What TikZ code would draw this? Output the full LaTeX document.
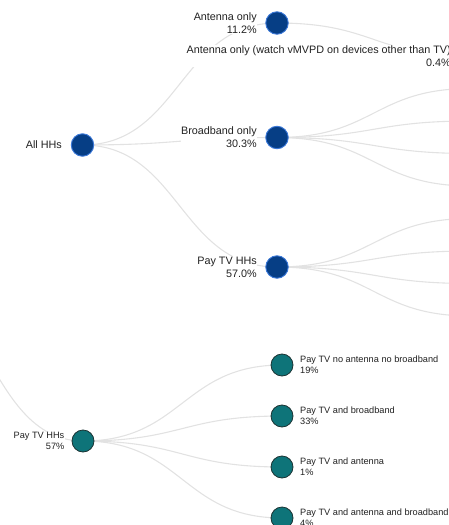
\documentclass[tikz,border=0pt]{standalone}
\usepackage{fontspec}
\setmainfont{Liberation Sans}
\usetikzlibrary{calc,backgrounds}
\definecolor{linkgray}{HTML}{E2E2E2}
\definecolor{nodeblue}{HTML}{063E85}
\definecolor{nodeedge}{HTML}{3B78D8}
\definecolor{nodeteal}{HTML}{0E7479}
\definecolor{tealedge}{HTML}{1C3333}
\definecolor{labelgray}{HTML}{222222}
\tikzset{
  link/.style={draw=linkgray, line width=1.1pt},
  bnode/.style={circle, fill=nodeblue, draw=nodeedge, line width=0.9pt, minimum size=22.5pt, inner sep=0pt},
  tnode/.style={circle, fill=nodeteal, draw=tealedge, line width=0.8pt, minimum size=22pt, inner sep=0pt},
  toplab/.style={font=\fontsize{10.8}{13}\selectfont, text=labelgray, align=right, inner sep=0.5pt, fill=white},
  botlab/.style={font=\fontsize{9.2}{11}\selectfont, text=labelgray, inner sep=0.5pt, fill=white},
}
\newcommand\dlink[2]{\draw[link] let \p1=(#1), \p2=(#2) in (\p1) .. controls ({(\x1+\x2)/2},\y1) and ({(\x1+\x2)/2},\y2) .. (\p2);}
\begin{document}
\begin{tikzpicture}[x=1pt,y=-1pt]
\useasboundingbox (0,0) rectangle (449,525);
% ---- upper tree ----
\node[bnode] (all) at (82.5,145) {};
\node[toplab, anchor=east] (alll) at (62.5,145) {All HHs};
\node[bnode] (ant) at (277,23) {};
\node[toplab, anchor=east] (antl) at (257.5,23) {Antenna only\\11.2\%};
\node[bnode] (bb) at (277,137.5) {};
\node[toplab, anchor=east] (bbl) at (257.5,137.5) {Broadband only\\30.3\%};
\node[bnode] (ptv) at (277,267) {};
\node[toplab, anchor=east] (ptvl) at (257.5,267) {Pay TV HHs\\57.0\%};
\coordinate (c0) at (471,56);
\coordinate (c1) at (471,88.5);
\coordinate (c2) at (471,121);
\coordinate (c3) at (471,153.5);
\coordinate (c4) at (471,186);
\coordinate (c5) at (471,218.5);
\coordinate (c6) at (471,251);
\coordinate (c7) at (471,283.5);
\coordinate (c8) at (471,316);
\node[toplab, anchor=east] (c0l) at (451.5,56) {Antenna only (watch vMVPD on devices other than TV)\\0.4\%};
% ---- lower tree ----
\coordinate (bp) at (-116,261);
\node[tnode] (broot) at (83,441) {};
\node[botlab, anchor=east, align=right] (brootl) at (65,441) {Pay TV HHs\\57\%};
\node[tnode] (k1) at (282,365) {};
\node[tnode] (k2) at (282,416) {};
\node[tnode] (k3) at (282,467) {};
\node[tnode] (k4) at (282,518) {};
\node[botlab, anchor=west, align=left] (k1l) at (299.5,365) {Pay TV no antenna no broadband\\19\%};
\node[botlab, anchor=west, align=left] (k2l) at (299.5,416) {Pay TV and broadband\\33\%};
\node[botlab, anchor=west, align=left] (k3l) at (299.5,467) {Pay TV and antenna\\1\%};
\node[botlab, anchor=west, align=left] (k4l) at (299.5,518) {Pay TV and antenna and broadband\\4\%};
% ---- links ----
\begin{pgfonlayer}{background}
\dlink{all}{ant}
\dlink{all}{bb}
\dlink{all}{ptv}
\dlink{ant}{c0}
\dlink{bb}{c1}
\dlink{bb}{c2}
\dlink{bb}{c3}
\dlink{bb}{c4}
\dlink{ptv}{c5}
\dlink{ptv}{c6}
\dlink{ptv}{c7}
\dlink{ptv}{c8}
\dlink{bp}{broot}
\dlink{broot}{k1}
\dlink{broot}{k2}
\dlink{broot}{k3}
\dlink{broot}{k4}
\end{pgfonlayer}
\end{tikzpicture}
\end{document}
